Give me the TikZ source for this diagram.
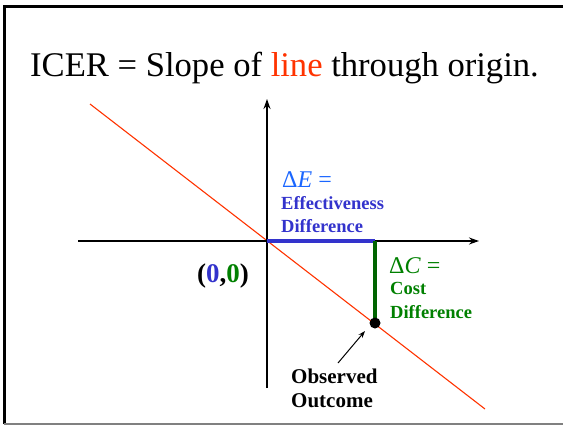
\documentclass[tikz,border=0pt]{standalone}
\usepackage{fontspec}
\setmainfont{Liberation Serif}
\usetikzlibrary{arrows.meta}
\definecolor{linered}{RGB}{255,51,0}
\definecolor{barblue}{RGB}{51,51,204}
\definecolor{deblue}{RGB}{26,102,255}
\definecolor{cgreen}{RGB}{0,128,0}
\definecolor{bargreen}{RGB}{0,100,0}
\tikzset{
  lbl/.style={anchor=base west, inner sep=0pt},
  axis/.style={line width=1.6pt, -{Stealth[length=10pt,width=7pt]}},
}
\begin{document}
\begin{tikzpicture}[x=1pt,y=-1pt]
\useasboundingbox (0,0) rectangle (563,426);
% frame
\draw[line width=3pt] (4,424) -- (4,6) -- (563,6);
\draw[gray, line width=1.5pt] (4,424) -- (563,424);
% title
\node[lbl] (title) at (30,76) {\fontsize{34.6}{40}\selectfont ICER = Slope of \textcolor{linered}{line} through origin.};
% coordinates
\coordinate (O) at (267,241);
\coordinate (xs) at (78,241);
\coordinate (xe) at (479,241);
\coordinate (ys) at (267,388);
\coordinate (ye) at (267,99);
\coordinate (rs) at (90,104);
\coordinate (re) at (485,409);
\coordinate (E) at (375,241);
\coordinate (P) at (375,323);
% red line
\draw[linered, line width=1.1pt] (rs) -- (re);
% axes
\draw[axis] (xs) -- (xe);
\draw[axis] (ys) -- (ye);
% bars
\draw[barblue, line width=4pt] (O) -- (E);
\draw[bargreen, line width=4pt] (E) -- (P);
\fill[black] (P) circle (5.5);
% labels
\node[lbl, text=deblue] (dE) at (282,187) {\fontsize{24}{28}\selectfont Δ\textit{E} =};
\node[lbl, text=barblue] (eff) at (281,209) {\fontsize{18.5}{22}\selectfont\bfseries Effectiveness};
\node[lbl, text=barblue] (effd) at (281,232) {\fontsize{18.5}{22}\selectfont\bfseries Difference};
\node[lbl] (orig) at (197,282) {\fontsize{27}{32}\selectfont\bfseries (\textcolor{barblue}{0},\textcolor{cgreen}{0})};
\node[lbl, text=cgreen] (dC) at (389,273) {\fontsize{24}{28}\selectfont Δ\textit{C} =};
\node[lbl, text=cgreen] (cost) at (390,294) {\fontsize{18.5}{22}\selectfont\bfseries Cost};
\node[lbl, text=cgreen] (costd) at (390,318) {\fontsize{18.5}{22}\selectfont\bfseries Difference};
\node[lbl] (obs) at (291,383) {\fontsize{21}{25}\selectfont\bfseries Observed};
\node[lbl] (outc) at (291,407) {\fontsize{21}{25}\selectfont\bfseries Outcome};
\coordinate (at) at (338,363);
\coordinate (ah) at (365,331);
\draw[line width=1pt, -{Stealth[length=7pt,width=5pt]}] (at) -- (ah);
\end{tikzpicture}
\end{document}
